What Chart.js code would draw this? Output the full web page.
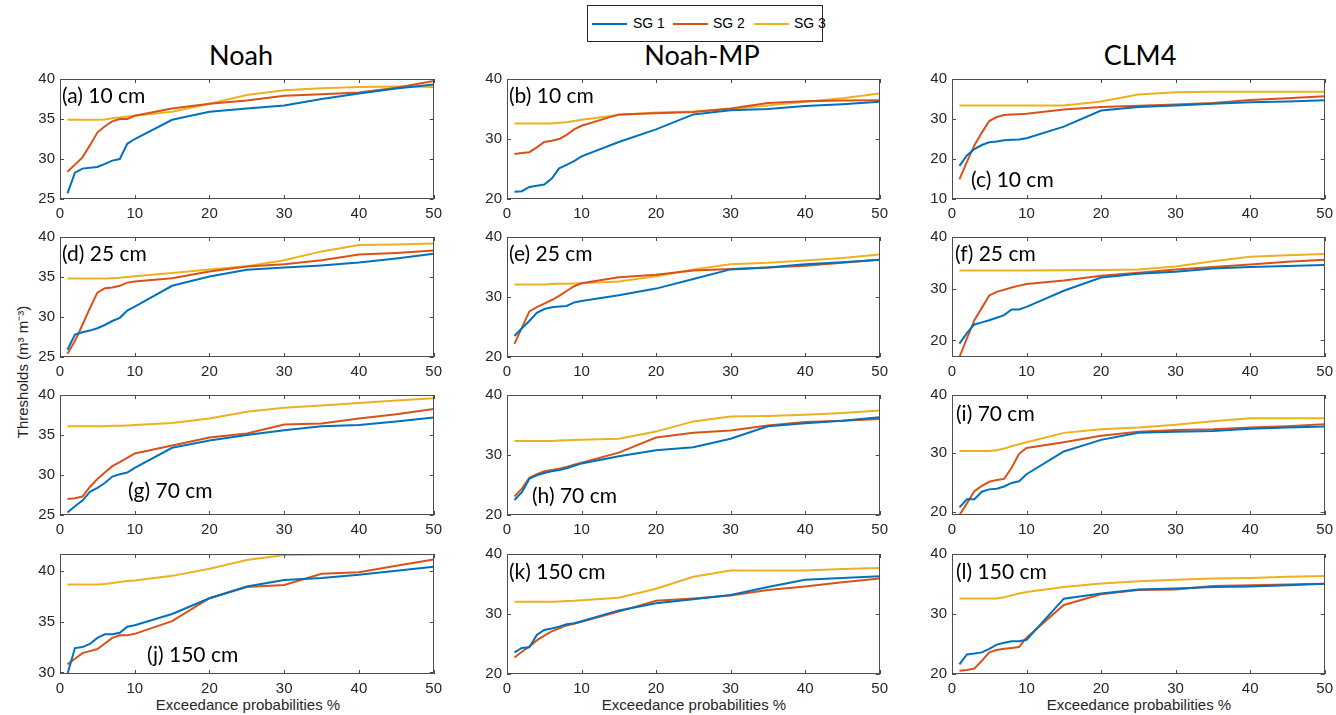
<!DOCTYPE html>
<html>
<head>
<meta charset="utf-8">
<script src="https://cdn.jsdelivr.net/npm/chart.js@4.4.0/dist/chart.umd.min.js"></script>
<style>
  html, body { margin: 0; padding: 0; background: #fff; overflow: hidden; }
  body { width: 1336px; height: 715px; position: relative; font-family: 'Liberation Sans', Arial, sans-serif; }
  canvas { position: absolute; }
  .col-title { position: absolute; font-family: Lato, sans-serif; font-size: 27px; line-height: 27px; color: #000; transform: translateX(-50%); white-space: nowrap; }
  .x-title { position: absolute; font-size: 15px; line-height: 15px; color: #262626; transform: translateX(-50%); white-space: nowrap; }
  .y-title { position: absolute; left: 22px; top: 372px; font-size: 15px; line-height: 15px; color: #262626; white-space: nowrap; transform: translate(-50%, -50%) rotate(-90deg); }
  #legend { position: absolute; left: 587px; top: 5px; width: 234px; height: 35px; border: 1px solid #262626; background: #fff; }
  #legend .swatch { position: absolute; top: 17px; height: 2px; width: 35px; }
  #legend .name { position: absolute; top: 10px; font-size: 14px; line-height: 14px; color: #000; white-space: nowrap; }
</style>
</head>
<body>

<div id="legend"></div>
<div class="col-title" style="left:241px; top:41px;">Noah</div>
<div class="col-title" style="left:702px; top:41px;">Noah-MP</div>
<div class="col-title" style="left:1140px; top:41px;">CLM4</div>
<div class="y-title">Thresholds (m³ m⁻³)</div>
<div class="x-title" style="left:248px; top:697px;">Exceedance probabilities %</div>
<div class="x-title" style="left:694px; top:697px;">Exceedance probabilities %</div>
<div class="x-title" style="left:1139px; top:697px;">Exceedance probabilities %</div>

<script>
// exceedance probabilities (%) shared by every panel
const probs = [1, 2, 3, 4, 5, 6, 7, 8, 9, 10, 15, 20, 25, 30, 35, 40, 45, 50];
const xTicks = [0, 10, 20, 30, 40, 50];
const seriesNames = ['SG 1', 'SG 2', 'SG 3'];
const seriesColors = ['#0072BD', '#D95319', '#EDB120'];

// Noah
const noah10_sg1 = [25.7, 28.3, 28.8, 28.9, 29.0, 29.4, 29.8, 30.0, 31.9, 32.5, 34.9, 35.9, 36.3, 36.7, 37.5, 38.2, 38.8, 39.3];
const noah10_sg2 = [28.4, 29.3, 30.2, 31.7, 33.3, 34.1, 34.7, 35.0, 35.0, 35.4, 36.3, 36.9, 37.3, 37.9, 38.1, 38.3, 38.9, 39.75];
const noah10_sg3 = [34.9, 34.9, 34.9, 34.9, 34.9, 34.95, 35.1, 35.2, 35.3, 35.4, 35.9, 36.9, 38.0, 38.6, 38.85, 39.0, 39.05, 39.0];

const noah25_sg1 = [25.9, 27.8, 28.1, 28.3, 28.6, 29.0, 29.5, 29.9, 30.8, 31.3, 33.9, 35.05, 35.9, 36.2, 36.45, 36.8, 37.3, 37.9];
const noah25_sg2 = [25.4, 27.0, 29.0, 31.1, 33.05, 33.6, 33.7, 33.9, 34.3, 34.45, 34.85, 35.7, 36.3, 36.6, 37.1, 37.8, 38.0, 38.3];
const noah25_sg3 = [34.8, 34.8, 34.8, 34.8, 34.8, 34.8, 34.85, 34.9, 35.0, 35.1, 35.5, 35.95, 36.35, 37.1, 38.2, 39.0, 39.05, 39.2];

const noah70_sg1 = [25.3, 26.1, 26.8, 27.9, 28.4, 29.0, 29.8, 30.1, 30.3, 30.9, 33.4, 34.3, 35.0, 35.6, 36.1, 36.25, 36.7, 37.2];
const noah70_sg2 = [27.0, 27.1, 27.3, 28.5, 29.5, 30.3, 31.1, 31.6, 32.15, 32.7, 33.7, 34.7, 35.2, 36.3, 36.45, 37.05, 37.6, 38.25];
const noah70_sg3 = [36.1, 36.1, 36.1, 36.1, 36.1, 36.1, 36.15, 36.15, 36.2, 36.25, 36.5, 37.05, 37.9, 38.4, 38.7, 39.0, 39.3, 39.6];

const noah150_sg1 = [29.85, 32.4, 32.5, 32.8, 33.4, 33.75, 33.75, 33.9, 34.5, 34.65, 35.75, 37.3, 38.45, 39.1, 39.3, 39.6, 40.0, 40.4];
const noah150_sg2 = [30.8, 31.35, 31.9, 32.1, 32.3, 32.85, 33.4, 33.65, 33.65, 33.8, 35.05, 37.3, 38.4, 38.6, 39.7, 39.85, 40.5, 41.1];
const noah150_sg3 = [38.65, 38.65, 38.65, 38.65, 38.65, 38.7, 38.8, 38.9, 39.0, 39.05, 39.5, 40.2, 41.05, 41.55, 41.6, 41.6, 41.62, 41.65];

// Noah-MP
const mp10_sg1 = [21.2, 21.3, 22.0, 22.2, 22.4, 23.4, 25.1, 25.7, 26.3, 27.1, 29.5, 31.6, 34.1, 34.8, 35.0, 35.5, 35.8, 36.2];
const mp10_sg2 = [27.5, 27.65, 27.8, 28.6, 29.5, 29.7, 30.0, 30.7, 31.6, 32.2, 34.1, 34.3, 34.5, 35.1, 36.0, 36.3, 36.4, 36.45];
const mp10_sg3 = [32.6, 32.6, 32.6, 32.6, 32.6, 32.6, 32.7, 32.8, 33.0, 33.2, 34.0, 34.4, 34.6, 35.0, 35.6, 36.2, 36.8, 37.6];

const mp25_sg1 = [23.5, 24.8, 26.0, 27.35, 28.0, 28.3, 28.4, 28.5, 29.1, 29.35, 30.3, 31.4, 33.0, 34.6, 34.9, 35.45, 35.8, 36.2];
const mp25_sg2 = [22.2, 24.9, 27.6, 28.3, 28.9, 29.5, 30.2, 31.0, 31.8, 32.3, 33.3, 33.7, 34.4, 34.65, 34.9, 35.2, 35.7, 36.2];
const mp25_sg3 = [32.1, 32.1, 32.1, 32.1, 32.1, 32.15, 32.2, 32.2, 32.25, 32.3, 32.6, 33.45, 34.6, 35.45, 35.7, 36.1, 36.5, 37.1];

const mp70_sg1 = [22.5, 23.8, 26.05, 26.6, 27.0, 27.3, 27.5, 27.8, 28.2, 28.6, 29.8, 30.8, 31.3, 32.7, 34.8, 35.3, 35.7, 36.3];
const mp70_sg2 = [23.1, 24.4, 26.2, 26.8, 27.3, 27.5, 27.7, 28.0, 28.4, 28.7, 30.4, 32.9, 33.7, 34.1, 34.9, 35.5, 35.7, 36.0];
const mp70_sg3 = [32.35, 32.35, 32.35, 32.35, 32.35, 32.35, 32.4, 32.45, 32.5, 32.55, 32.7, 33.9, 35.6, 36.4, 36.5, 36.7, 37.0, 37.4];

const mp150_sg1 = [23.6, 24.35, 24.45, 26.5, 27.35, 27.6, 27.9, 28.3, 28.45, 28.8, 30.6, 31.8, 32.45, 33.15, 34.5, 35.7, 36.0, 36.3];
const mp150_sg2 = [22.75, 23.7, 24.6, 25.6, 26.4, 27.1, 27.6, 28.1, 28.35, 28.7, 30.4, 32.2, 32.6, 33.1, 34.0, 34.6, 35.3, 35.9];
const mp150_sg3 = [32.05, 32.05, 32.05, 32.05, 32.05, 32.05, 32.1, 32.15, 32.2, 32.3, 32.7, 34.2, 36.2, 37.25, 37.25, 37.25, 37.5, 37.65];

// CLM4
const clm10_sg1 = [18.3, 20.9, 22.5, 23.5, 24.2, 24.4, 24.7, 24.8, 24.9, 25.2, 28.1, 32.1, 33.0, 33.4, 33.8, 34.2, 34.4, 34.7];
const clm10_sg2 = [14.9, 19.3, 23.4, 26.6, 29.5, 30.5, 31.0, 31.1, 31.2, 31.3, 32.4, 33.0, 33.3, 33.6, 34.0, 34.75, 35.2, 35.7];
const clm10_sg3 = [33.4, 33.4, 33.4, 33.4, 33.4, 33.4, 33.4, 33.4, 33.4, 33.4, 33.4, 34.4, 36.1, 36.7, 36.8, 36.8, 36.8, 36.8];

const clm25_sg1 = [19.4, 21.4, 23.1, 23.5, 23.9, 24.4, 24.9, 26.0, 26.0, 26.5, 29.6, 32.15, 32.9, 33.3, 33.9, 34.2, 34.4, 34.6];
const clm25_sg2 = [16.8, 20.4, 23.9, 26.3, 28.7, 29.4, 29.8, 30.25, 30.6, 30.9, 31.6, 32.5, 33.1, 33.7, 34.2, 34.7, 35.2, 35.6];
const clm25_sg3 = [33.5, 33.5, 33.5, 33.5, 33.5, 33.5, 33.5, 33.5, 33.5, 33.5, 33.55, 33.6, 33.7, 34.3, 35.3, 36.2, 36.45, 36.7];

const clm70_sg1 = [20.7, 22.1, 22.1, 23.4, 23.8, 23.9, 24.3, 24.9, 25.2, 26.4, 30.3, 32.3, 33.5, 33.7, 33.8, 34.2, 34.4, 34.6];
const clm70_sg2 = [19.4, 21.4, 23.5, 24.4, 25.1, 25.4, 25.6, 27.5, 29.9, 30.9, 31.9, 33.0, 33.7, 34.0, 34.1, 34.4, 34.65, 35.0];
const clm70_sg3 = [30.4, 30.4, 30.4, 30.4, 30.4, 30.5, 30.8, 31.2, 31.55, 31.9, 33.5, 34.1, 34.4, 34.9, 35.5, 36.0, 36.0, 36.0];

const clm150_sg1 = [21.6, 23.25, 23.4, 23.6, 24.2, 24.9, 25.2, 25.45, 25.45, 25.7, 32.55, 33.4, 34.1, 34.25, 34.5, 34.6, 34.8, 35.05];
const clm150_sg2 = [20.55, 20.65, 20.9, 22.2, 23.6, 24.0, 24.2, 24.35, 24.5, 26.05, 31.5, 33.3, 34.0, 34.1, 34.65, 34.8, 34.9, 35.05];
const clm150_sg3 = [32.6, 32.6, 32.6, 32.6, 32.6, 32.6, 32.8, 33.1, 33.4, 33.65, 34.5, 35.1, 35.45, 35.7, 35.9, 36.0, 36.2, 36.35];

// plot boxes (page pixels)
const colLeft = [60, 507, 952];
const colWidth = [376, 375, 375];
const rowTop = [77, 235, 393, 552];
const rowHeight = 122;

// room around each plot box inside its canvas
const padLeft = 45, padTop = 12, padRight = 12, padBottom = 24;

const panels = [
  { col: 0, row: 0, series: [noah10_sg1, noah10_sg2, noah10_sg3], yMin: 25, yMax: 40, yTicks: [25, 30, 35, 40], label: '(a) 10 cm', lx: 62, ly: 103 },
  { col: 1, row: 0, series: [mp10_sg1, mp10_sg2, mp10_sg3], yMin: 20, yMax: 40, yTicks: [20, 30, 40], label: '(b) 10 cm', lx: 509, ly: 103 },
  { col: 2, row: 0, series: [clm10_sg1, clm10_sg2, clm10_sg3], yMin: 10, yMax: 40, yTicks: [10, 20, 30, 40], label: '(c) 10 cm', lx: 971, ly: 187 },
  { col: 0, row: 1, series: [noah25_sg1, noah25_sg2, noah25_sg3], yMin: 25, yMax: 40, yTicks: [25, 30, 35, 40], label: '(d) 25 cm', lx: 62, ly: 261 },
  { col: 1, row: 1, series: [mp25_sg1, mp25_sg2, mp25_sg3], yMin: 20, yMax: 40, yTicks: [20, 30, 40], label: '(e) 25 cm', lx: 509, ly: 261 },
  { col: 2, row: 1, series: [clm25_sg1, clm25_sg2, clm25_sg3], yMin: 16.8, yMax: 40, yTicks: [20, 30, 40], label: '(f) 25 cm', lx: 955, ly: 261 },
  { col: 0, row: 2, series: [noah70_sg1, noah70_sg2, noah70_sg3], yMin: 25, yMax: 40, yTicks: [25, 30, 35, 40], label: '(g) 70 cm', lx: 128, ly: 498 },
  { col: 1, row: 2, series: [mp70_sg1, mp70_sg2, mp70_sg3], yMin: 20, yMax: 40, yTicks: [20, 30, 40], label: '(h) 70 cm', lx: 532, ly: 503 },
  { col: 2, row: 2, series: [clm70_sg1, clm70_sg2, clm70_sg3], yMin: 19.4, yMax: 40, yTicks: [20, 30, 40], label: '(i) 70 cm', lx: 956, ly: 421 },
  { col: 0, row: 3, series: [noah150_sg1, noah150_sg2, noah150_sg3], yMin: 29.85, yMax: 41.65, yTicks: [30, 35, 40], label: '(j) 150 cm', lx: 147, ly: 662 },
  { col: 1, row: 3, series: [mp150_sg1, mp150_sg2, mp150_sg3], yMin: 20, yMax: 40, yTicks: [20, 30, 40], label: '(k) 150 cm', lx: 509, ly: 579 },
  { col: 2, row: 3, series: [clm150_sg1, clm150_sg2, clm150_sg3], yMin: 20, yMax: 40, yTicks: [20, 30, 40], label: '(l) 150 cm', lx: 956, ly: 579 }
];

// box around the axes with inward ticks on all four sides, plus the panel tag
const axesBox = {
  id: 'axesBox',
  afterDatasetsDraw(chart, args, opts) {
    const { ctx, chartArea: a, scales: { x, y } } = chart;
    ctx.save();
    ctx.strokeStyle = '#4d4d4d';
    ctx.lineWidth = 1;
    ctx.strokeRect(Math.round(a.left) + 0.5, Math.round(a.top) + 0.5, Math.round(a.width) - 1, Math.round(a.height) - 1);
    ctx.beginPath();
    x.ticks.forEach(t => {
      const px = Math.round(x.getPixelForValue(t.value)) + 0.5;
      ctx.moveTo(px, a.bottom); ctx.lineTo(px, a.bottom - 4);
      ctx.moveTo(px, a.top); ctx.lineTo(px, a.top + 4);
    });
    y.ticks.forEach(t => {
      const py = Math.round(y.getPixelForValue(t.value)) + 0.5;
      ctx.moveTo(a.left, py); ctx.lineTo(a.left + 4, py);
      ctx.moveTo(a.right, py); ctx.lineTo(a.right - 4, py);
    });
    ctx.stroke();
    if (opts.text) {
      ctx.font = '21px Lato, sans-serif';
      ctx.fillStyle = '#000';
      ctx.textBaseline = 'alphabetic';
      ctx.fillText(opts.text, opts.x, opts.y);
    }
    ctx.restore();
  }
};

function buildLegend() {
  const box = document.getElementById('legend');
  const swatchLeft = [4, 85, 166];
  const nameLeft = [45, 125, 206];
  seriesNames.forEach((name, i) => {
    const sw = document.createElement('div');
    sw.className = 'swatch';
    sw.style.left = swatchLeft[i] + 'px';
    sw.style.background = seriesColors[i];
    box.appendChild(sw);
    const tx = document.createElement('div');
    tx.className = 'name';
    tx.style.left = nameLeft[i] + 'px';
    tx.textContent = name;
    box.appendChild(tx);
  });
}

function drawPanel(p) {
  const left = colLeft[p.col] - padLeft;
  const top = rowTop[p.row] - padTop;
  const w = colWidth[p.col] + padLeft + padRight;
  const h = rowHeight + padTop + padBottom;

  const canvas = document.createElement('canvas');
  canvas.width = w; canvas.height = h;
  canvas.style.left = left + 'px';
  canvas.style.top = top + 'px';
  canvas.style.width = w + 'px';
  canvas.style.height = h + 'px';
  document.body.appendChild(canvas);

  const tickFont = { family: "'Liberation Sans', Arial, sans-serif", size: 15 };

  new Chart(canvas.getContext('2d'), {
    type: 'line',
    data: {
      datasets: p.series.map((vals, i) => ({
        label: seriesNames[i],
        data: probs.map((x, k) => ({ x: x, y: vals[k] })),
        borderColor: seriesColors[i],
        borderWidth: 2,
        pointRadius: 0,
        tension: 0,
        fill: false
      }))
    },
    options: {
      responsive: false,
      animation: false,
      devicePixelRatio: 1,
      layout: { padding: { left: 0, top: padTop, right: padRight, bottom: 0 } },
      plugins: {
        legend: { display: false },
        tooltip: { enabled: false },
        axesBox: { text: p.label, x: p.lx - left, y: p.ly - top }
      },
      scales: {
        x: {
          type: 'linear', min: 0, max: 50,
          grid: { display: false, drawTicks: false },
          border: { display: false },
          afterBuildTicks: s => { s.ticks = xTicks.map(v => ({ value: v })); },
          afterFit: s => { s.height = padBottom; },
          ticks: { color: '#262626', font: tickFont, padding: 6, maxRotation: 0 }
        },
        y: {
          type: 'linear', min: p.yMin, max: p.yMax,
          grid: { display: false, drawTicks: false },
          border: { display: false },
          afterBuildTicks: s => { s.ticks = p.yTicks.map(v => ({ value: v })); },
          afterFit: s => { s.width = padLeft; },
          ticks: { color: '#262626', font: tickFont, padding: 5, callback: v => String(v) }
        }
      }
    },
    plugins: [axesBox]
  });
}

function buildAll() {
  buildLegend();
  panels.forEach(drawPanel);
}

Promise.all([
  document.fonts.load('21px Lato'),
  document.fonts.load('15px "Liberation Sans"')
]).then(buildAll, buildAll);
</script>
</body>
</html>
